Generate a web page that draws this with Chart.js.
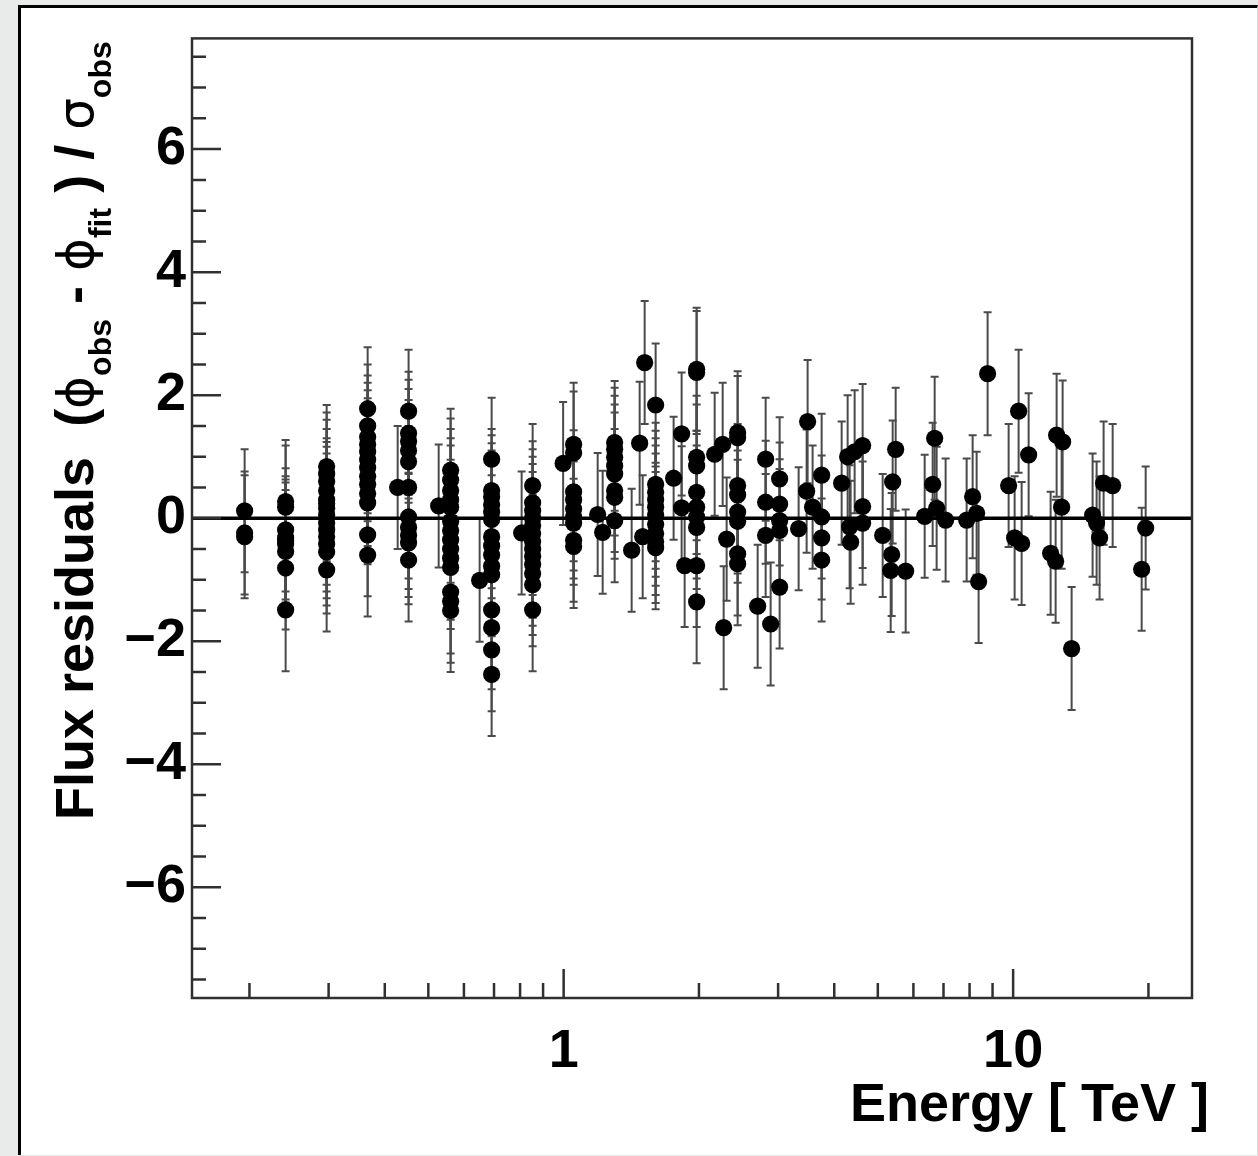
<!DOCTYPE html>
<html>
<head>
<meta charset="utf-8">
<script src="https://cdn.jsdelivr.net/npm/chart.js@4.4.0/dist/chart.umd.min.js"></script>
<style>
  html, body { margin: 0; padding: 0; width: 1258px; height: 1156px; overflow: hidden; background: #e9ebeb; }
  #panel { position: absolute; left: 18px; top: 5px; width: 1236px; height: 1147px; background: #fff;
           border-left: 3px solid #000; border-top: 3px solid #000; border-right: 1px solid #d8dada; }
  #wrap { position: absolute; left: 0; top: 0; width: 1258px; height: 1156px; }
  canvas { display: block; }
</style>
</head>
<body>
<div id="panel"></div>
<div id="wrap"><canvas id="c" width="1258" height="1156"></canvas></div>
<script>
// Energy of each bin column (TeV)
const energyTeV = [
  0.1951, 0.2407, 0.2970, 0.3664, 0.4273, 0.4519, 0.5272, 0.5605, 0.6503, 0.6915,
  0.8064, 0.8532, 0.9974, 1.0525, 1.1904, 1.2213, 1.2986, 1.4168, 1.4761, 1.4991,
  1.5144, 1.6020, 1.7566, 1.8301, 1.8586, 1.9764, 2.1677, 2.2585, 2.2699, 2.3049,
  2.4383, 2.7016, 2.8146, 2.8876, 3.0236, 3.3327, 3.4721, 3.4897, 3.5801, 3.7497,
  4.1544, 4.2837, 4.3279, 4.3499, 4.4400, 4.6259, 5.1261, 5.3407, 5.3679, 5.3951,
  5.4786, 5.7667, 6.3562, 6.6218, 6.6902, 6.7584, 7.0764, 7.8813, 8.1263, 8.2946,
  8.3791, 8.7742, 9.7724, 10.077, 10.285, 10.445, 10.827, 12.117, 12.432, 12.496,
  12.820, 12.886, 13.494, 15.025, 15.336, 15.571, 15.896, 16.650, 19.318, 19.718
];

// Normalised flux residuals measured at each energy column
const residuals = [
  [0.12, -0.24, -0.30],
  [0.27, 0.18, -0.19, -0.32, -0.37, -0.42, -0.54, -0.81, -1.49],
  [0.84, 0.72, 0.60, 0.45, 0.30, 0.24, 0.16, 0.05, -0.08, -0.19, -0.30, -0.42, -0.55, -0.84],
  [1.78, 1.50, 1.32, 1.20, 1.08, 0.95, 0.82, 0.68, 0.55, 0.40, 0.25, -0.27, -0.60],
  [0.50],
  [1.74, 1.38, 1.25, 1.10, 0.92, 0.50, 0.02, -0.15, -0.28, -0.40, -0.68],
  [0.20],
  [0.78, 0.62, 0.45, 0.30, 0.18, -0.05, -0.20, -0.35, -0.50, -0.65, -0.80, -1.20, -1.35, -1.50],
  [-1.01],
  [0.96, 0.45, 0.35, 0.22, 0.10, -0.02, -0.30, -0.45, -0.60, -0.78, -0.92, -1.49, -1.78, -2.14, -2.54],
  [-0.24],
  [0.53, 0.25, 0.12, 0.00, -0.12, -0.25, -0.38, -0.50, -0.62, -0.75, -0.90, -1.08, -1.49],
  [0.89],
  [1.20, 1.06, 0.43, 0.30, 0.15, 0.02, -0.08, -0.36, -0.46],
  [0.06],
  [-0.23],
  [1.23, 1.12, 0.99, 0.85, 0.72, 0.45, 0.34, -0.04],
  [-0.52],
  [1.22],
  [-0.30],
  [2.53],
  [1.84, 0.55, 0.42, 0.30, 0.18, 0.05, -0.10, -0.25, -0.38, -0.48],
  [0.65],
  [1.37, 0.17],
  [-0.77],
  [2.42, 2.37, 0.99, 0.85, 0.42, 0.18, 0.02, -0.15, -0.77, -1.36],
  [1.04],
  [1.20],
  [-1.78],
  [-0.34],
  [1.39, 1.31, 0.53, 0.38, 0.10, -0.05, -0.58, -0.74],
  [-1.43],
  [0.96, 0.26, -0.28],
  [-1.72],
  [0.64, 0.23, -0.04, -0.20, -1.12],
  [-0.17],
  [0.44],
  [1.57],
  [0.18],
  [0.70, 0.02, -0.32, -0.68],
  [0.57],
  [1.00],
  [-0.14],
  [-0.39],
  [1.08],
  [1.18, 0.19, -0.08],
  [-0.28],
  [-0.85],
  [-0.59],
  [0.59],
  [1.12],
  [-0.86],
  [0.03],
  [0.55],
  [1.30],
  [0.16],
  [-0.03],
  [-0.03],
  [0.35],
  [0.08],
  [-1.03],
  [2.35],
  [0.53],
  [-0.32],
  [1.74],
  [-0.41],
  [1.03],
  [-0.57],
  [-0.70],
  [1.35],
  [0.18],
  [1.24],
  [-2.12],
  [0.05],
  [-0.08],
  [-0.32],
  [0.57],
  [0.53],
  [-0.83],
  [-0.16]
];

// Residuals are in units of sigma, so every error bar spans +/- 1
const residualError = 1;

// Axis tick positions and labels
const xMajorTicks = [1, 10];
const xMinorTicks = [0.2, 0.3, 0.4, 0.5, 0.6, 0.7, 0.8, 0.9, 2, 3, 4, 5, 6, 7, 8, 9, 20];
const xTickLabels = { 1: '1', 10: '10' };
const yMajorTicks = [-6, -4, -2, 0, 2, 4, 6];
const yMinorStep = 0.5;
const yTickLabels = { '-6': '\u22126', '-4': '\u22124', '-2': '\u22122', '0': '0', '2': '2', '4': '4', '6': '6' };

const xRange = [0.149, 25.0];
const yRange = [-7.8, 7.8];

const xTitle = 'Energy [ TeV ]';
const yTitleParts = [
  { text: 'Flux residuals  (', kind: 'main' },
  { text: '\u03D5', kind: 'greek' },
  { text: 'obs', kind: 'sub' },
  { text: ' - ', kind: 'main' },
  { text: '\u03D5', kind: 'greek' },
  { text: 'fit', kind: 'sub' },
  { text: ' ) / ', kind: 'main' },
  { text: '\u03C3', kind: 'greek' },
  { text: 'obs', kind: 'sub' }
];

const FAMILY = '"Liberation Sans", Arial, Helvetica, sans-serif';
const GREEK_FAMILY = '"DejaVu Sans", "Liberation Sans", sans-serif';
const AXIS_COLOR = '#303030';

const points = [];
energyTeV.forEach((e, i) => residuals[i].forEach(r => points.push({ x: e, y: r })));

const yMinorTicks = [];
for (let v = -7.5; v <= 7.5001; v += yMinorStep) yMinorTicks.push(Math.round(v * 10) / 10);

const residualPlot = {
  id: 'residualPlot',
  beforeDatasetsDraw(chart) {
    const { ctx, chartArea: a, scales: { x, y } } = chart;
    ctx.save();
    // error bars with small end caps
    ctx.strokeStyle = '#4a4a4a';
    ctx.lineWidth = 2;
    const cap = 4;
    points.forEach(p => {
      const px = x.getPixelForValue(p.x);
      const yTop = y.getPixelForValue(p.y + residualError);
      const yBot = y.getPixelForValue(p.y - residualError);
      ctx.beginPath();
      ctx.moveTo(px, yTop); ctx.lineTo(px, yBot);
      ctx.moveTo(px - cap, yTop); ctx.lineTo(px + cap, yTop);
      ctx.moveTo(px - cap, yBot); ctx.lineTo(px + cap, yBot);
      ctx.stroke();
    });
    // reference line at zero residual
    const y0 = y.getPixelForValue(0);
    ctx.strokeStyle = '#000';
    ctx.lineWidth = 3.5;
    ctx.beginPath();
    ctx.moveTo(a.left, y0); ctx.lineTo(a.right, y0);
    ctx.stroke();
    ctx.restore();
  },
  afterDraw(chart) {
    const { ctx, chartArea: a, scales: { x, y } } = chart;
    ctx.save();
    // frame
    ctx.strokeStyle = AXIS_COLOR;
    ctx.lineWidth = 2.5;
    ctx.strokeRect(a.left, a.top, a.right - a.left, a.bottom - a.top);
    // inward tick marks
    ctx.beginPath();
    xMajorTicks.forEach(v => { const px = x.getPixelForValue(v); ctx.moveTo(px, a.bottom); ctx.lineTo(px, a.bottom - 29); });
    xMinorTicks.forEach(v => { const px = x.getPixelForValue(v); ctx.moveTo(px, a.bottom); ctx.lineTo(px, a.bottom - 15); });
    yMinorTicks.forEach(v => {
      const py = y.getPixelForValue(v);
      const len = yMajorTicks.includes(v) ? 29 : 14;
      ctx.moveTo(a.left, py); ctx.lineTo(a.left + len, py);
    });
    ctx.stroke();

    // x-axis title
    ctx.fillStyle = '#000';
    ctx.font = 'bold 54px ' + FAMILY;
    ctx.textAlign = 'right';
    ctx.textBaseline = 'alphabetic';
    ctx.fillText(xTitle, 1209, 1121);

    // y-axis title with subscripts, read bottom to top
    ctx.translate(93, 820);
    ctx.rotate(-Math.PI / 2);
    ctx.textAlign = 'left';
    let pos = 0;
    yTitleParts.forEach(part => {
      let shift = 0;
      if (part.kind === 'main') ctx.font = 'bold 54px ' + FAMILY;
      else if (part.kind === 'greek') ctx.font = '50px ' + GREEK_FAMILY;
      else { ctx.font = 'bold 32px ' + FAMILY; shift = 18; }
      ctx.fillText(part.text, pos, shift);
      pos += ctx.measureText(part.text).width;
    });
    ctx.restore();
  }
};

new Chart(document.getElementById('c'), {
  type: 'scatter',
  data: {
    datasets: [{
      data: points,
      pointRadius: 8.6,
      pointHoverRadius: 8.6,
      backgroundColor: '#000',
      borderWidth: 0,
      pointStyle: 'circle'
    }]
  },
  options: {
    responsive: false,
    animation: false,
    events: [],
    layout: { padding: { left: 0, right: 66, top: 36, bottom: 0 } },
    plugins: { legend: { display: false }, tooltip: { enabled: false }, title: { display: false } },
    scales: {
      x: {
        type: 'logarithmic',
        min: xRange[0],
        max: xRange[1],
        grid: { display: false, drawTicks: false },
        border: { display: false },
        afterBuildTicks: s => { s.ticks = xMajorTicks.concat(xMinorTicks).sort((p, q) => p - q).map(v => ({ value: v })); },
        afterFit: s => { s.height = 158; },
        ticks: {
          autoSkip: false,
          maxRotation: 0,
          minRotation: 0,
          padding: 22,
          color: '#000',
          font: { family: FAMILY, size: 54, weight: 'bold' },
          callback: v => xTickLabels[v] || ''
        }
      },
      y: {
        type: 'linear',
        min: yRange[0],
        max: yRange[1],
        grid: { display: false, drawTicks: false },
        border: { display: false },
        afterBuildTicks: s => { s.ticks = yMinorTicks.map(v => ({ value: v })); },
        afterFit: s => { s.width = 192; },
        ticks: {
          autoSkip: false,
          padding: 6,
          color: '#000',
          font: { family: FAMILY, size: 54, weight: 'bold' },
          callback: v => yTickLabels[String(v)] || ''
        }
      }
    }
  },
  plugins: [residualPlot]
});
</script>
</body>
</html>
